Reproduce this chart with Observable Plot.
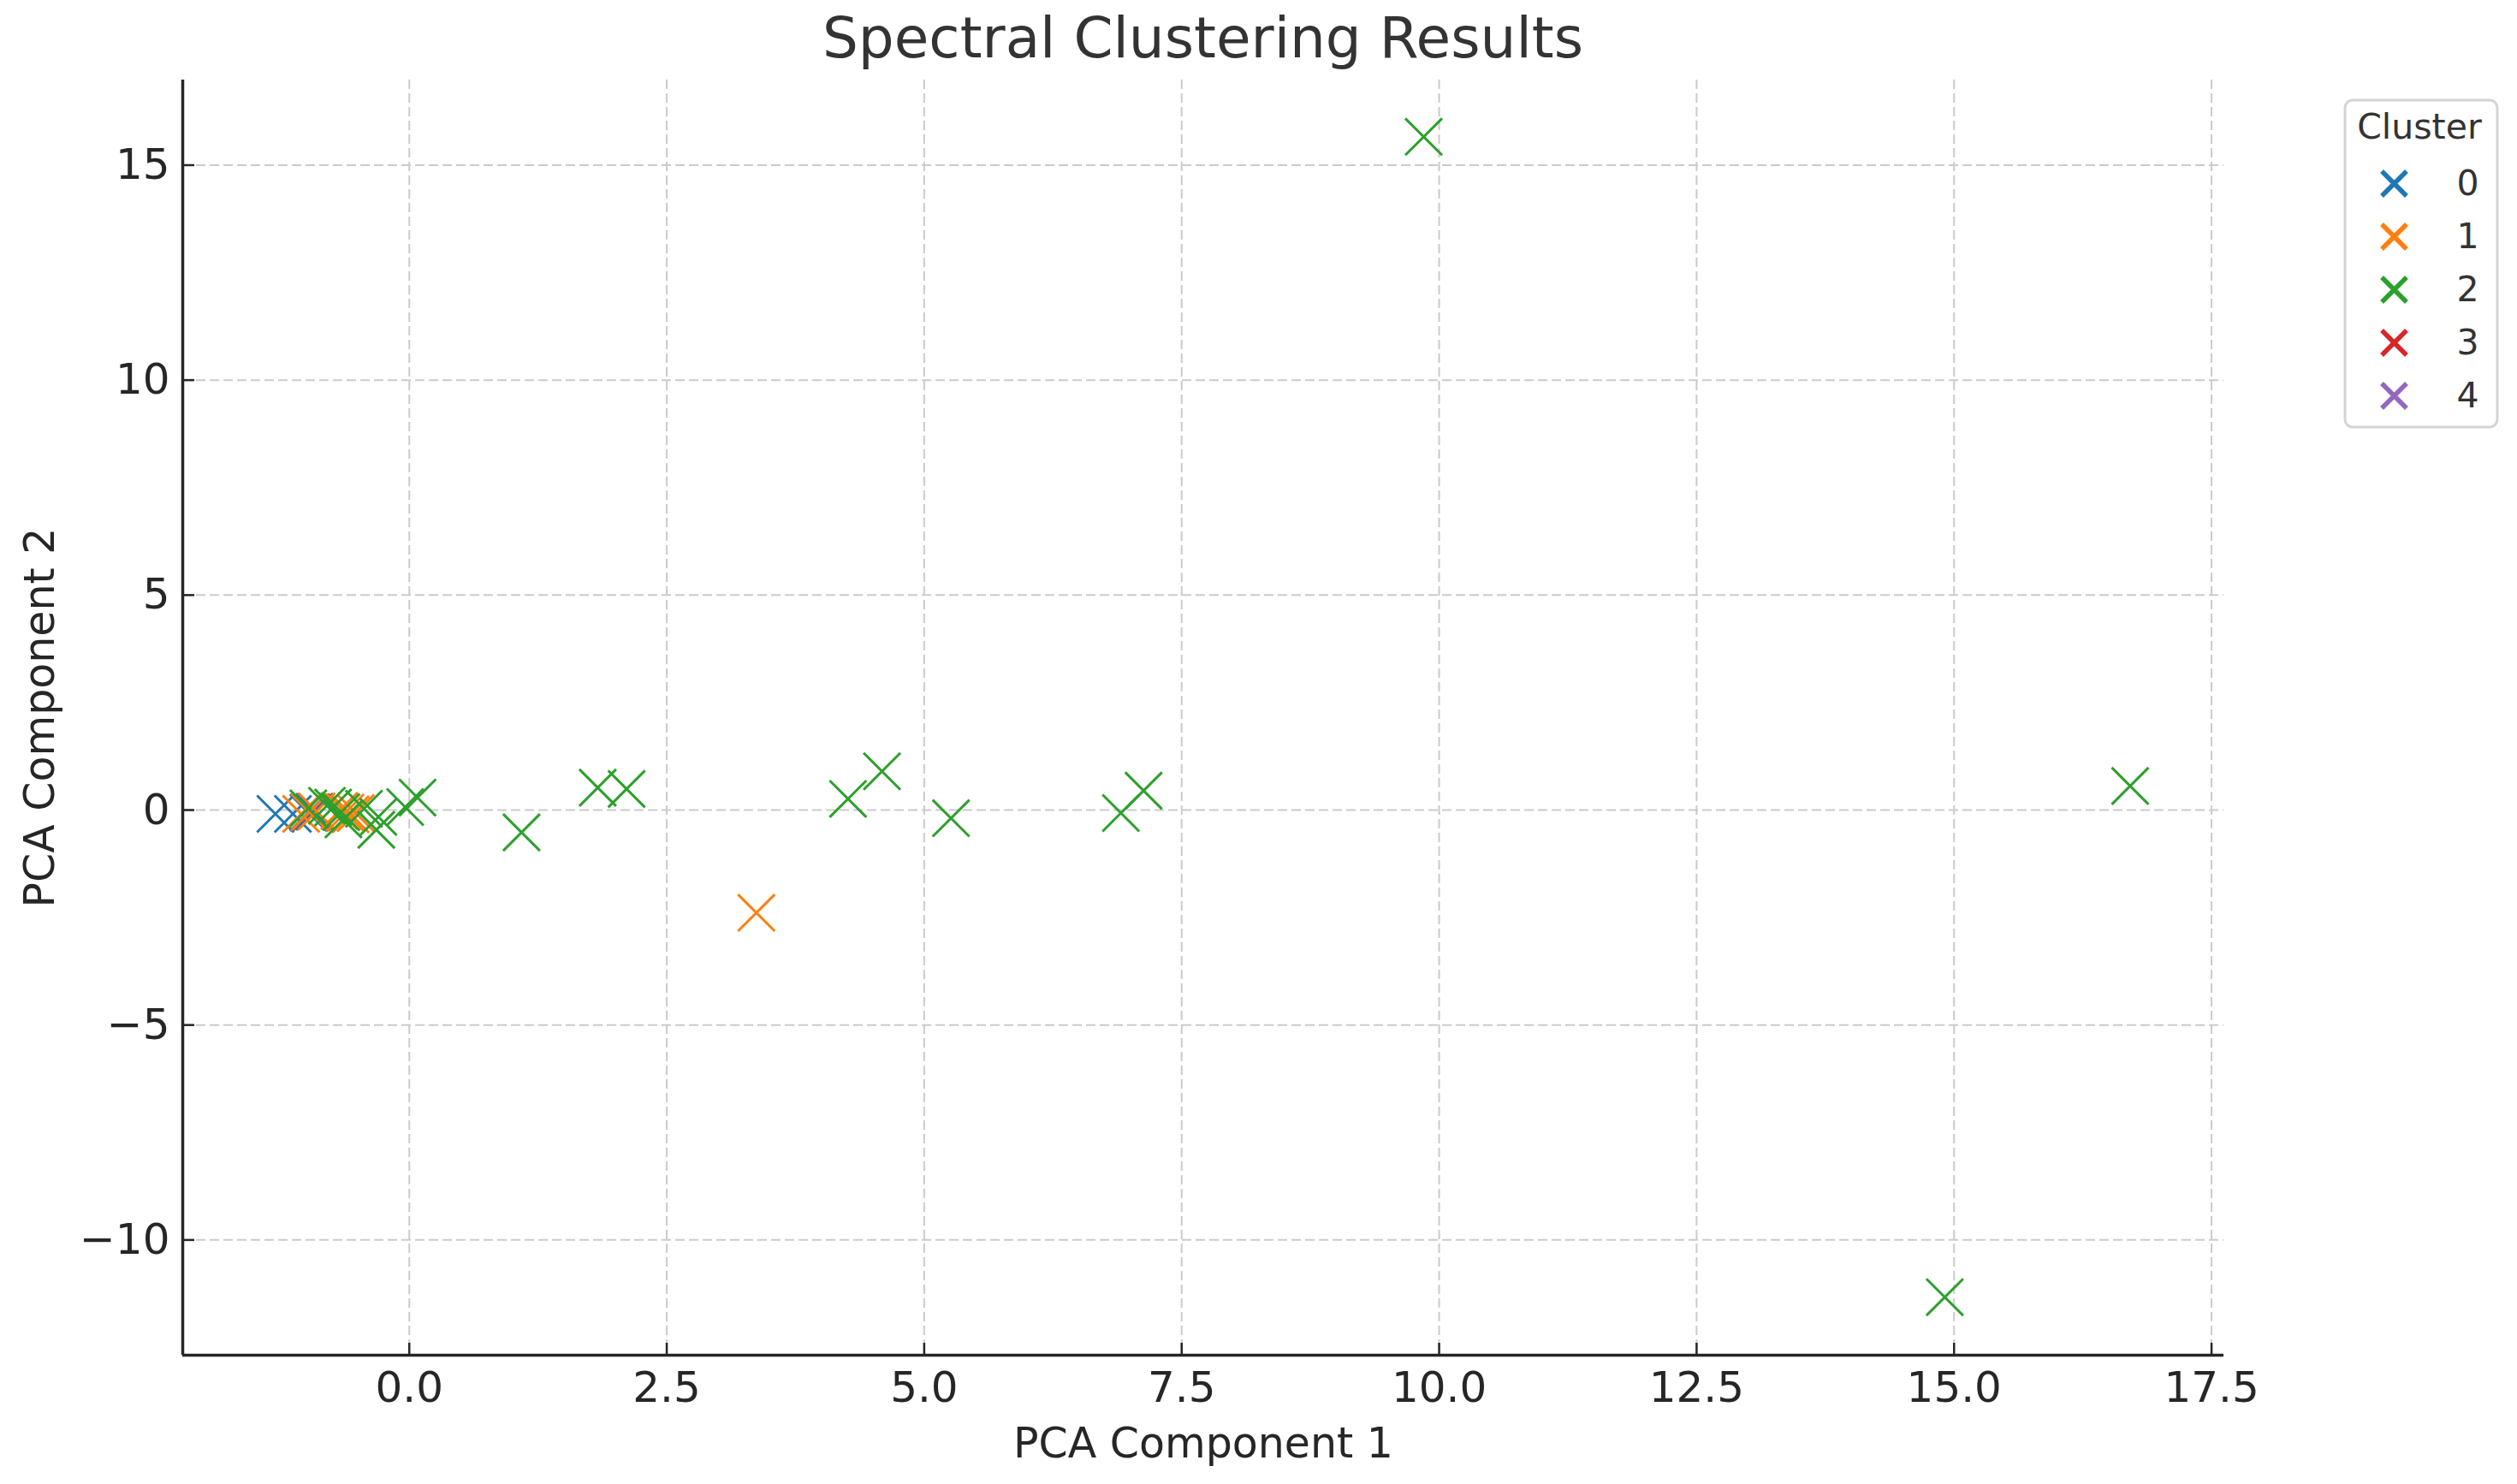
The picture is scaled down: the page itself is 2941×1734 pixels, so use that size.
<!DOCTYPE html>
<html>
<head>
<meta charset="utf-8">
<script src="https://cdn.jsdelivr.net/npm/d3@7"></script>
<script src="https://cdn.jsdelivr.net/npm/@observablehq/plot@0.6"></script>
<style>
html, body { margin: 0; padding: 0; background: #ffffff; }
#fig { position: relative; width: 2941px; height: 1734px; overflow: hidden; font-family: "DejaVu Sans", sans-serif; }
#title { position: absolute; left: 213px; width: 2385px; top: 0; height: 90px; line-height: 90px; text-align: center; font-size: 66px; color: #333333; white-space: nowrap; }
#chart { position: absolute; left: 0; top: 93px; }
#legend { position: absolute; left: 2738px; top: 115px; }
</style>
</head>
<body>
<div id="fig">
  <div id="title">Spectral Clustering Results</div>
  <div id="chart"></div>
  <div id="legend"></div>
</div>
<script>
// ---- data ----
const clusterNames = ["0", "1", "2", "3", "4"];
const clusterColors = ["#1f77b4", "#ff7f0e", "#2ca02c", "#d62728", "#9467bd"];

const cluster3_pc1 = [-0.95];
const cluster3_pc2 = [-0.05];

const cluster4_pc1 = [-0.97];
const cluster4_pc2 = [-0.07];

const cluster0_pc1 = [-1.30, -1.13, -0.98, -0.92];
const cluster0_pc2 = [-0.09, -0.09, -0.06, -0.04];

const cluster1_pc1 = [-1.05, -0.97, -0.90, -0.68, -0.62, -0.57, -0.52, 3.37];
const cluster1_pc2 = [-0.09, -0.05, -0.03, -0.02, -0.06, -0.10, -0.07, -2.39];

const cluster2_pc1 = [-0.98, -0.80, -0.74, -0.66, -0.64, -0.44, -0.30, -0.32, -0.04, 0.08,
                      1.09, 1.83, 2.11, 4.26, 4.59, 5.26, 6.91, 7.13, 9.85, 14.91, 16.71];
const cluster2_pc2 = [0.04, 0.10, 0.06, -0.05, -0.22, 0.03, -0.16, -0.46, 0.07, 0.29,
                      -0.52, 0.52, 0.49, 0.26, 0.90, -0.19, -0.07, 0.45, 15.66, -11.33, 0.56];

const xTicks = [0, 2.5, 5, 7.5, 10, 12.5, 15, 17.5];
const yTicks = [-10, -5, 0, 5, 10, 15];
const xDomain = [-2.2, 17.62];
const yDomain = [-12.68, 16.98];

// ---- table built from arrays (draw order) ----
const groups = [
  ["3", cluster3_pc1, cluster3_pc2],
  ["4", cluster4_pc1, cluster4_pc2],
  ["0", cluster0_pc1, cluster0_pc2],
  ["1", cluster1_pc1, cluster1_pc2],
  ["2", cluster2_pc1, cluster2_pc2]
];
const points = groups.flatMap(([c, xs, ys]) => xs.map((x, i) => ({pc1: x, pc2: ys[i], cluster: c})));

const ink = "#262626";
const gridStyle = {stroke: "#cbcbcb", strokeWidth: 2, strokeDasharray: "11,5", strokeOpacity: 1};

const chart = Plot.plot({
  width: 2941,
  height: 1641,
  marginLeft: 213,
  marginRight: 343,
  marginTop: 0,
  marginBottom: 151,
  style: {fontFamily: "DejaVu Sans, sans-serif", fontSize: "50px", color: ink, background: "transparent", overflow: "visible"},
  x: {domain: xDomain},
  y: {domain: yDomain},
  color: {domain: clusterNames, range: clusterColors},
  marks: [
    Plot.gridX(xTicks, gridStyle),
    Plot.gridY(yTicks, gridStyle),
    Plot.dot(points, {x: "pc1", y: "pc2", stroke: "cluster", symbol: "times", r: 19.6, strokeWidth: 3}),
    Plot.ruleX([xDomain[0]], {stroke: ink, strokeWidth: 3.5}),
    Plot.ruleY([yDomain[0]], {stroke: ink, strokeWidth: 3.5}),
    Plot.axisX(xTicks, {tickSize: 14, dy: -14, fill: "none", stroke: ink, strokeWidth: 2.5, label: null}),
    Plot.axisX(xTicks, {tickSize: 0, tickPadding: 18.5, tickFormat: d3.format(".1f"), fill: ink, fontSize: 50, label: null}),
    Plot.axisY(yTicks, {tickSize: 14, dx: 14, fill: "none", stroke: ink, strokeWidth: 2.5, label: null}),
    Plot.axisY(yTicks, {tickSize: 0, tickPadding: 15, tickFormat: d3.format("d"), fill: ink, fontSize: 50, label: null}),
    Plot.text(["PCA Component 1"], {frameAnchor: "bottom", dy: 104, textAnchor: "middle", lineAnchor: "middle", fontSize: 49, fill: ink}),
    Plot.text(["PCA Component 2"], {frameAnchor: "left", dx: -166, rotate: -90, textAnchor: "middle", lineAnchor: "middle", fontSize: 49, fill: ink})
  ]
});
document.getElementById("chart").appendChild(chart);

const legend = Plot.plot({
  width: 181,
  height: 385,
  margin: 0,
  style: {fontFamily: "DejaVu Sans, sans-serif", fontSize: "41px", color: "#333333", background: "transparent", overflow: "visible"},
  y: {type: "point", domain: clusterNames, range: [98, 348], padding: 0, axis: null},
  color: {domain: clusterNames, range: clusterColors},
  marks: [
    Plot.frame({fill: "#ffffff", stroke: "#d4d4d4", strokeWidth: 3, inset: 1.5, rx: 9}),
    Plot.text(["Cluster"], {frameAnchor: "top", dx: -2, dy: 33, textAnchor: "middle", lineAnchor: "middle", fontSize: 41, fill: "#333333"}),
    Plot.dot(clusterNames, {y: d => d, stroke: d => d, symbol: "times", r: 13.2, strokeWidth: 5.5, frameAnchor: "left", dx: 59}),
    Plot.text(clusterNames, {y: d => d, text: d => d, frameAnchor: "right", dx: -23, textAnchor: "end", lineAnchor: "middle", fontSize: 41, fill: "#333333"})
  ]
});
document.getElementById("legend").appendChild(legend);
</script>
</body>
</html>
